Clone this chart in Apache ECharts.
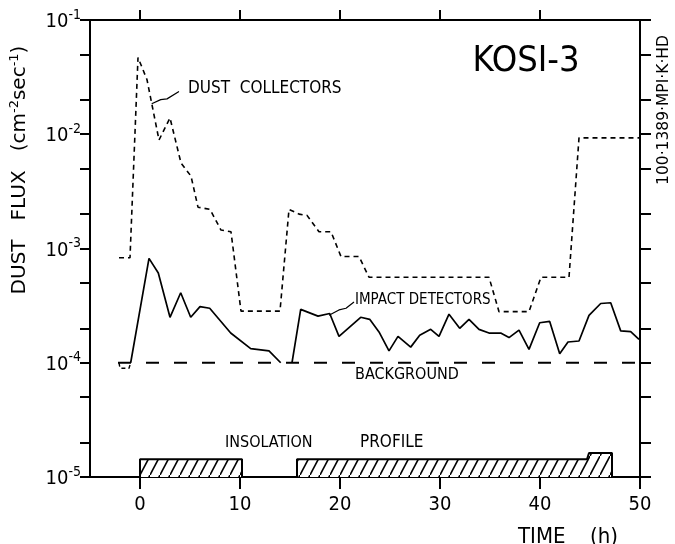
<!DOCTYPE html>
<html>
<head>
<meta charset="utf-8">
<script src="https://cdn.jsdelivr.net/npm/echarts@6/dist/echarts.min.js"></script>
<style>
  html, body { margin: 0; padding: 0; background: #fff; }
  #chart { width: 675px; height: 544px; }
</style>
</head>
<body>
<div id="chart"></div>
<script>
// time (h) and flux (cm^-2 sec^-1)
const collectorT = [-2.1, -1.0, -0.2, 0.7, 1.9, 3.0, 4.1, 5.1, 5.8, 7.0, 8.1, 9.1, 10.1, 14.0, 14.9, 15.9, 16.7, 17.9, 19.1, 20.1, 21.9, 22.9, 34.9, 35.9, 38.9, 40.1, 42.9, 43.9, 50.0]
const collectorV = [8.3e-4, 8.3e-4, 0.047, 0.03, 0.0089, 0.0139, 5.6e-3, 4.3e-3, 2.3e-3, 2.2e-3, 1.45e-3, 1.4e-3, 2.83e-4, 2.83e-4, 2.2e-3, 2.0e-3, 1.95e-3, 1.4e-3, 1.4e-3, 8.5e-4, 8.5e-4, 5.6e-4, 5.6e-4, 2.8e-4, 2.8e-4, 5.6e-4, 5.6e-4, 9.3e-3, 9.3e-3]

const impactT1 = [-0.93, 0.9, 1.83, 3.0, 4.07, 5.07, 6.0, 6.97, 9.07, 11.07, 12.9, 14.07]
const impactV1 = [1e-4, 8.2e-4, 6.1e-4, 2.5e-4, 4.1e-4, 2.5e-4, 3.1e-4, 3.0e-4, 1.82e-4, 1.33e-4, 1.27e-4, 1e-4]
const impactT2 = [15.2, 16.07, 17.8, 18.97, 19.9, 22.07, 22.97, 23.9, 24.9, 25.8, 27.07, 27.97, 29.07, 29.9, 30.9, 31.97, 32.9, 33.9, 34.9, 36.07, 36.9, 37.9, 38.9, 39.97, 40.97, 41.97, 42.8, 43.9, 44.9, 46.07, 47.07, 48.07, 49.07, 49.9]
const impactV2 = [1e-4, 2.93e-4, 2.56e-4, 2.7e-4, 1.7e-4, 2.5e-4, 2.4e-4, 1.86e-4, 1.27e-4, 1.7e-4, 1.37e-4, 1.74e-4, 1.96e-4, 1.7e-4, 2.66e-4, 2.0e-4, 2.4e-4, 1.96e-4, 1.82e-4, 1.82e-4, 1.66e-4, 1.93e-4, 1.31e-4, 2.24e-4, 2.3e-4, 1.2e-4, 1.52e-4, 1.55e-4, 2.6e-4, 3.3e-4, 3.35e-4, 1.9e-4, 1.87e-4, 1.6e-4]
// upper limit before t=0
const limitT = [-2.1, -2.0, -1.1, -0.93]
const limitV = [1e-4, 8.95e-5, 8.95e-5, 1e-4]

const backgroundT = [-2.2, 50]
const backgroundV = [1e-4, 1e-4]

// insolation profile bars
const insol1T = [0, 0, 10.2, 10.2]
const insol1V = [1e-5, 1.43e-5, 1.43e-5, 1e-5]
const insol2T = [15.7, 15.7, 44.7, 44.9, 47.2, 47.2]
const insol2V = [1e-5, 1.43e-5, 1.43e-5, 1.62e-5, 1.62e-5, 1e-5]

// leader lines for the labels
const leaderDustT = [1.17, 2.07, 2.7, 3.9]
const leaderDustV = [0.0185, 0.0201, 0.0204, 0.0237]
const leaderImpT = [18.9, 19.9, 20.6, 21.4]
const leaderImpV = [2.6e-4, 2.9e-4, 3.0e-4, 3.4e-4]

const xTicks = [0, 10, 20, 30, 40, 50]
const xTopTicks = [0, 10, 20, 30, 40]
const yMajor = [1e-5, 1e-4, 1e-3, 1e-2, 1e-1]
const yTicks = [1e-5, 2e-5, 5e-5, 1e-4, 2e-4, 5e-4, 1e-3, 2e-3, 5e-3, 1e-2, 2e-2, 5e-2, 1e-1]

const FONT = 'Liberation Sans Narrow, DejaVu Sans Condensed, DejaVu Sans, sans-serif'
const WIDE = 'DejaVu Sans, sans-serif'

function pairs (t, v) {
  return t.map((x, i) => [x, v[i]])
}

function hatch () {
  const c = document.createElement('canvas')
  c.width = 10
  c.height = 19
  const ctx = c.getContext('2d')
  ctx.fillStyle = '#fff'
  ctx.fillRect(0, 0, 10, 19)
  ctx.strokeStyle = '#000'
  ctx.lineWidth = 1.6
  ctx.beginPath()
  ctx.moveTo(-1, 20.9)
  ctx.lineTo(11, -1.9)
  ctx.stroke()
  return c
}

const chart = echarts.init(document.getElementById('chart'))
const pattern = { image: hatch(), repeat: 'repeat' }

const axisLine = { show: true, onZero: false, lineStyle: { color: '#000', width: 2 } }

chart.setOption({
  animation: false,
  backgroundColor: '#fff',
  grid: { left: 90, right: 35, top: 20, bottom: 67, outerBoundsMode: 'none' },
  xAxis: [{
    type: 'value',
    min: -5,
    max: 50,
    position: 'bottom',
    axisLine: axisLine,
    splitLine: { show: false },
    axisTick: { inside: false, length: 12, customValues: xTicks, lineStyle: { color: '#000', width: 2 } },
    axisLabel: { customValues: xTicks, margin: 18, color: '#000', fontSize: 20, fontFamily: FONT }
  }, {
    type: 'value',
    min: -5,
    max: 50,
    position: 'top',
    axisLine: axisLine,
    splitLine: { show: false },
    axisTick: { inside: false, length: 10, customValues: xTopTicks, lineStyle: { color: '#000', width: 2 } },
    axisLabel: { show: false }
  }],
  yAxis: [{
    type: 'log',
    logBase: 10,
    min: 1e-5,
    max: 0.1,
    position: 'left',
    axisLine: axisLine,
    splitLine: { show: false },
    axisTick: { inside: false, length: 10, customValues: yTicks, lineStyle: { color: '#000', width: 2 } },
    axisLabel: {
      customValues: yMajor,
      margin: 9,
      formatter: (v) => '{b|10}{s|' + Math.round(Math.log10(v)) + '}',
      rich: {
        b: { fontSize: 20, fontFamily: FONT, color: '#000', lineHeight: 24, verticalAlign: 'bottom' },
        s: { fontSize: 14, fontFamily: FONT, color: '#000', verticalAlign: 'top', lineHeight: 24 }
      }
    }
  }, {
    type: 'log',
    logBase: 10,
    min: 1e-5,
    max: 0.1,
    position: 'right',
    axisLine: axisLine,
    splitLine: { show: false },
    axisTick: { inside: false, length: 11, customValues: yTicks, lineStyle: { color: '#000', width: 2 } },
    axisLabel: { show: false }
  }],
  graphic: [
    { type: 'text', x: 20, y: 170, rotation: Math.PI / 2,
      style: { text: 'DUST   FLUX   (cm{s|-2}sec{s|-1})', align: 'center', verticalAlign: 'middle',
        font: '20px ' + WIDE, fill: '#000',
        rich: { s: { fontSize: 13, fontFamily: WIDE, verticalAlign: 'top', lineHeight: 24 } } } },
    { type: 'text', x: 664, y: 110, rotation: Math.PI / 2,
      style: { text: '100·1389·MPI·K·HD', align: 'center', verticalAlign: 'middle', font: '15.5px ' + WIDE, fill: '#000' } },
    { type: 'text', x: 526, y: 62,
      style: { text: 'KOSI-3', align: 'center', verticalAlign: 'middle', font: '36px ' + FONT, fill: '#000' } },
    { type: 'text', x: 188, y: 89,
      style: { text: 'DUST  COLLECTORS', align: 'left', verticalAlign: 'middle', font: '17px ' + FONT, fill: '#000' } },
    { type: 'text', x: 355, y: 300,
      style: { text: 'IMPACT DETECTORS', align: 'left', verticalAlign: 'middle', font: '15px ' + FONT, fill: '#000' } },
    { type: 'text', x: 355, y: 375,
      style: { text: 'BACKGROUND', align: 'left', verticalAlign: 'middle', font: '16px ' + FONT, fill: '#000' } },
    { type: 'text', x: 225, y: 443,
      style: { text: 'INSOLATION', align: 'left', verticalAlign: 'middle', font: '16px ' + FONT, fill: '#000' } },
    { type: 'text', x: 360, y: 443,
      style: { text: 'PROFILE', align: 'left', verticalAlign: 'middle', font: '17px ' + FONT, fill: '#000' } },
    { type: 'text', x: 518, y: 537,
      style: { text: 'TIME', align: 'left', verticalAlign: 'middle', font: '22px ' + FONT, fill: '#000' } },
    { type: 'text', x: 590, y: 537,
      style: { text: '(h)', align: 'left', verticalAlign: 'middle', font: '22px ' + FONT, fill: '#000' } }
  ],
  series: [
    { name: 'insolation 1', type: 'line', data: pairs(insol1T, insol1V), showSymbol: false, silent: true,
      lineStyle: { color: '#000', width: 2 }, areaStyle: { color: pattern, opacity: 1, origin: 'start' } },
    { name: 'insolation 2', type: 'line', data: pairs(insol2T, insol2V), showSymbol: false, silent: true,
      lineStyle: { color: '#000', width: 2 }, areaStyle: { color: pattern, opacity: 1, origin: 'start' } },
    { name: 'background', type: 'line', data: pairs(backgroundT, backgroundV), showSymbol: false, silent: true,
      lineStyle: { color: '#000', width: 1.8, type: [13, 15] } },
    { name: 'dust collectors', type: 'line', data: pairs(collectorT, collectorV), showSymbol: false, silent: true,
      lineStyle: { color: '#000', width: 1.6, type: [5, 4] } },
    { name: 'impact detectors', type: 'line', data: pairs(impactT1, impactV1), showSymbol: false, silent: true,
      lineStyle: { color: '#000', width: 1.7 } },
    { name: 'impact detectors 2', type: 'line', data: pairs(impactT2, impactV2), showSymbol: false, silent: true,
      lineStyle: { color: '#000', width: 1.7 } },
    { name: 'upper limit', type: 'line', data: pairs(limitT, limitV), showSymbol: false, silent: true,
      lineStyle: { color: '#000', width: 1.4, type: [4, 3] } },
    { name: 'leader dust', type: 'line', data: pairs(leaderDustT, leaderDustV), showSymbol: false, silent: true,
      lineStyle: { color: '#000', width: 1.2 } },
    { name: 'leader impact', type: 'line', data: pairs(leaderImpT, leaderImpV), showSymbol: false, silent: true,
      lineStyle: { color: '#000', width: 1.2 } }
  ]
})
</script>
</body>
</html>
